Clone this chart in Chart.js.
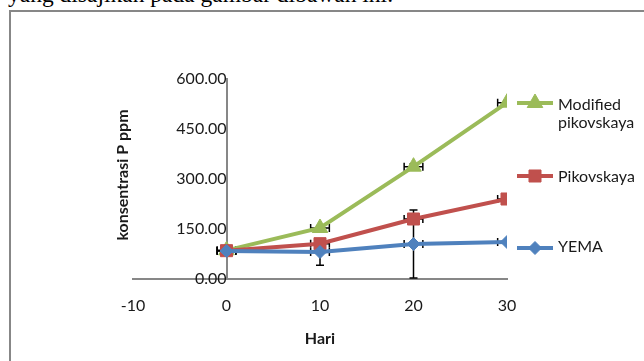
<!DOCTYPE html>
<html>
<head>
<meta charset="utf-8">
<script src="https://cdn.jsdelivr.net/npm/chart.js@4.4.1/dist/chart.umd.min.js"></script>
<style>
  html, body { margin: 0; padding: 0; background: #fff; width: 644px; height: 361px; overflow: hidden; }
  .caption { position: absolute; left: 8px; top: -17px; font: 23.5px "Liberation Serif", "Times New Roman", serif; line-height: 23px; color: #000; white-space: nowrap; }
  .frame { position: absolute; left: 9px; top: 10px; width: 700px; height: 400px; border-left: 2px solid #878787; border-top: 2px solid #878787; }
  #wrap { position: absolute; left: 0; top: 0; width: 644px; height: 361px; }
</style>
</head>
<body>
<div class="caption">yang disajikan pada gambar dibawah ini.</div>
<div class="frame"></div>
<div id="wrap"><canvas id="chart"></canvas></div>
<script>
// Sampling days (Hari)
const days = [0, 10, 20, 30];

// P concentration (ppm) per medium
const yema = [84, 81, 105, 111];
const pikovskaya = [85, 106, 180, 240];
const modifiedPikovskaya = [86, 153, 337, 529];

// Standard error of P concentration
const yemaErr = [4, 40, 102, 4];
const pikovskayaErr = [3, 6, 8, 5];
const modifiedPikovskayaErr = [3, 6, 8, 6];

// Error along the day axis
const dayErr = [1, 1, 1, 1];

// Axis ticks
const yTickStep = 150;
const xTickStep = 10;

const FONT = 'Lato, "Open Sans", sans-serif';
const TEXT = '#1a1a1a';

const series = [
  { label: 'YEMA', values: yema, err: yemaErr, color: '#4F81BD', style: 'rectRot', radius: 6.5 },
  { label: 'Pikovskaya', values: pikovskaya, err: pikovskayaErr, color: '#C0504D', style: 'rect', radius: 8.5 },
  { label: 'Modified pikovskaya', values: modifiedPikovskaya, err: modifiedPikovskayaErr, color: '#9BBB59', style: 'triangle', radius: 9 }
];

// Legend entries, top to bottom, with the text broken into lines
const legendEntries = [
  { series: 2, lines: ['Modified', 'pikovskaya'], y: 103, textY: 105 },
  { series: 1, lines: ['Pikovskaya'], y: 176, textY: 177 },
  { series: 0, lines: ['YEMA'], y: 248, textY: 247 }
];

function drawMarker(ctx, style, r, x, y, color) {
  ctx.save();
  ctx.fillStyle = color;
  ctx.strokeStyle = color;
  ctx.lineWidth = 1;
  ctx.beginPath();
  if (style === 'rect') {
    const s = Math.SQRT1_2 * r;
    ctx.rect(x - s, y - s, 2 * s, 2 * s);
  } else if (style === 'rectRot') {
    ctx.moveTo(x, y - r); ctx.lineTo(x + r, y); ctx.lineTo(x, y + r); ctx.lineTo(x - r, y); ctx.closePath();
  } else {
    const a = 2 * Math.PI / 3;
    ctx.moveTo(x, y - r);
    ctx.lineTo(x + Math.sin(a) * r, y - Math.cos(a) * r);
    ctx.lineTo(x + Math.sin(2 * a) * r, y - Math.cos(2 * a) * r);
    ctx.closePath();
  }
  ctx.fill();
  ctx.stroke();
  ctx.restore();
}

const errorBars = {
  id: 'errorBars',
  beforeDatasetsDraw(chart) {
    const { ctx, chartArea, scales: { x, y } } = chart;
    const cap = 4;
    ctx.save();
    ctx.beginPath();
    ctx.rect(chartArea.left, chartArea.top, chartArea.right - chartArea.left, chartArea.bottom - chartArea.top);
    ctx.clip();
    ctx.strokeStyle = '#000';
    ctx.lineWidth = 1.5;
    series.forEach(s => {
      s.values.forEach((v, j) => {
        const px = x.getPixelForValue(days[j]);
        const py = y.getPixelForValue(v);
        const yTop = y.getPixelForValue(v + s.err[j]);
        const yBot = y.getPixelForValue(v - s.err[j]);
        const xL = x.getPixelForValue(days[j] - dayErr[j]);
        const xR = x.getPixelForValue(days[j] + dayErr[j]);
        ctx.beginPath();
        ctx.moveTo(px, yTop); ctx.lineTo(px, yBot);
        ctx.moveTo(px - cap, yTop); ctx.lineTo(px + cap, yTop);
        ctx.moveTo(px - cap, yBot); ctx.lineTo(px + cap, yBot);
        ctx.moveTo(xL, py); ctx.lineTo(xR, py);
        ctx.moveTo(xL, py - cap); ctx.lineTo(xL, py + cap);
        ctx.moveTo(xR, py - cap); ctx.lineTo(xR, py + cap);
        ctx.stroke();
      });
    });
    ctx.restore();
  }
};

const annotations = {
  id: 'annotations',
  afterDraw(chart) {
    const { ctx, chartArea } = chart;
    ctx.save();
    ctx.fillStyle = TEXT;
    ctx.font = 'bold 16px ' + FONT;
    ctx.textAlign = 'center';
    ctx.textBaseline = 'middle';
    // Axis titles
    ctx.fillText('Hari', (chartArea.left + chartArea.right) / 2, 339);
    ctx.save();
    ctx.translate(123, 175);
    ctx.rotate(-Math.PI / 2);
    ctx.fillText('konsentrasi P ppm', 0, 0);
    ctx.restore();
    // Legend
    ctx.font = '16px ' + FONT;
    ctx.textAlign = 'left';
    legendEntries.forEach(e => {
      const s = series[e.series];
      ctx.strokeStyle = s.color;
      ctx.lineWidth = 4;
      ctx.beginPath();
      ctx.moveTo(517, e.y); ctx.lineTo(553, e.y);
      ctx.stroke();
      drawMarker(ctx, s.style, s.radius, 535, e.y, s.color);
      ctx.fillStyle = TEXT;
      e.lines.forEach((line, k) => ctx.fillText(line, 558, e.textY + k * 18));
    });
    ctx.restore();
  }
};

new Chart(document.getElementById('chart'), {
  type: 'line',
  data: {
    datasets: series.map(s => ({
      label: s.label,
      data: days.map((d, i) => ({ x: d, y: s.values[i] })),
      borderColor: s.color,
      backgroundColor: s.color,
      borderWidth: 4,
      pointStyle: s.style,
      pointRadius: s.radius,
      pointBorderWidth: 1,
      pointBackgroundColor: s.color,
      pointBorderColor: s.color,
      tension: 0,
      fill: false
    }))
  },
  options: {
    responsive: true,
    maintainAspectRatio: false,
    animation: false,
    devicePixelRatio: 1,
    layout: { padding: { left: 133, right: 137, top: 79, bottom: 42 } },
    plugins: { legend: { display: false }, tooltip: { enabled: false } },
    scales: {
      x: {
        type: 'linear',
        position: 'bottom',
        min: -10,
        max: 30,
        grid: { display: false },
        border: { display: true, color: '#878787', width: 2 },
        ticks: { stepSize: xTickStep, padding: 9, autoSkip: false, maxRotation: 0, color: TEXT, font: { family: FONT, size: 16 } },
        afterFit(scale) { scale.height = 40; }
      },
      y: {
        type: 'linear',
        position: { x: 0 },
        min: 0,
        max: 600,
        grid: { display: false },
        border: { display: true, color: '#878787', width: 2 },
        ticks: {
          stepSize: yTickStep,
          padding: 16,
          color: TEXT,
          font: { family: FONT, size: 16 },
          callback: v => Number(v).toFixed(2)
        },
        afterFit(scale) { scale.width = 0; }
      }
    }
  },
  plugins: [errorBars, annotations]
});
</script>
</body>
</html>
